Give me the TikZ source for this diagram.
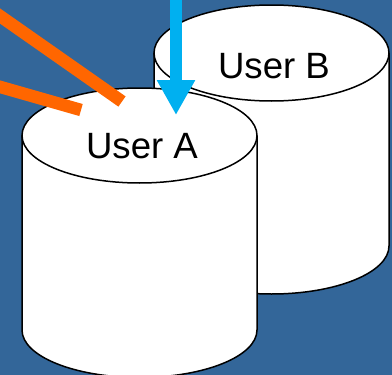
\documentclass[tikz,border=0pt]{standalone}
\usepackage{fontspec}
\setmainfont{Liberation Sans}
\usetikzlibrary{arrows.meta}
\definecolor{bgblue}{HTML}{336699}
\definecolor{wireorange}{HTML}{FF6600}
\definecolor{arrowblue}{HTML}{00B0F0}
\tikzset{
  cylbody/.style={fill=white,draw=black,line width=1.5pt},
  userlabel/.style={anchor=base,inner sep=0pt,font=\fontsize{36.6}{40}\selectfont},
  orangewire/.style={wireorange,line width=12.5pt},
  bluearrow/.style={arrowblue,line width=12pt,-{Triangle[width=36pt,length=35pt]}}
}
\begin{document}
\begin{tikzpicture}[x=1pt,y=-1pt]
\path[use as bounding box,fill=bgblue] (0,0) rectangle (392,375);
\begin{scope}
\clip (0,0) rectangle (392,375);
% User B cylinder
\draw[cylbody] (154,53) -- (154,246) arc[start angle=180,end angle=0,x radius=117.5,y radius=48] -- (389,53);
\draw[cylbody] (271.5,53) ellipse[x radius=117.5,y radius=48];
% User A cylinder
\draw[cylbody] (22,135.5) -- (22,330) arc[start angle=180,end angle=0,x radius=117.5,y radius=47.5] -- (257,135.5);
\draw[cylbody] (139.5,135.5) ellipse[x radius=117.5,y radius=47.5];
\end{scope}
\node[userlabel] (userB) at (274,78) {User B};
\node[userlabel] (userA) at (142,158) {User A};
\coordinate (w1a) at (-10,9);
\coordinate (w1b) at (122,101.5);
\coordinate (w2a) at (-10,84);
\coordinate (w2b) at (81,110);
\coordinate (arA) at (176,-5);
\coordinate (arB) at (176,115);
\draw[orangewire] (w1a) -- (w1b);
\draw[orangewire] (w2a) -- (w2b);
\draw[bluearrow] (arA) -- (arB);
\end{tikzpicture}
\end{document}
